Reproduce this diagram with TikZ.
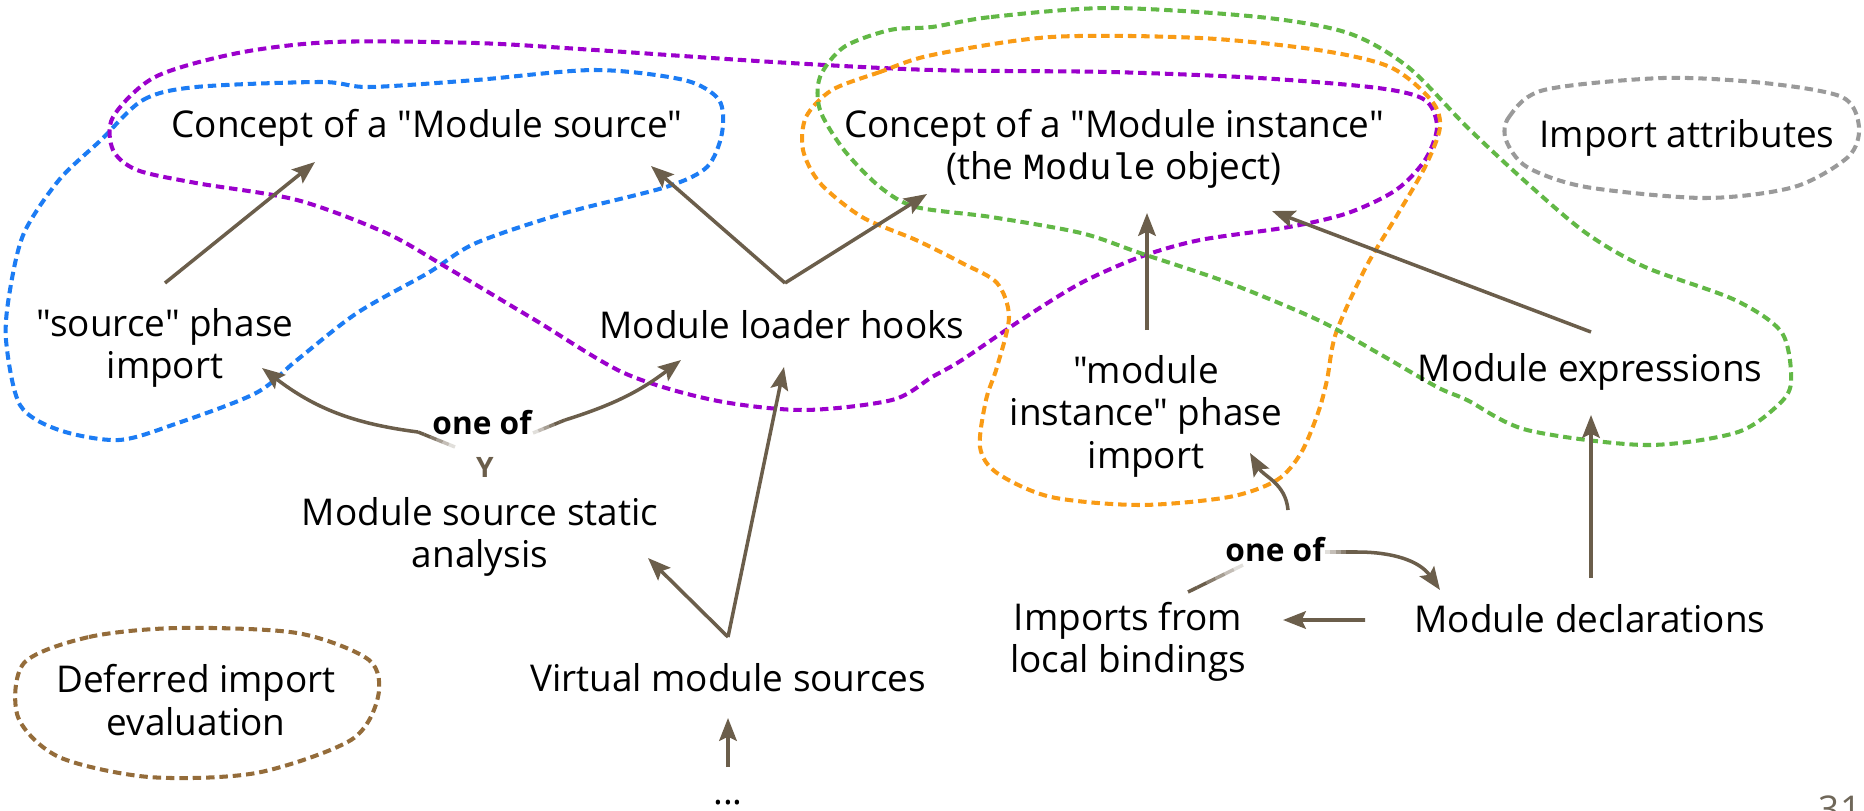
\documentclass[tikz,border=0pt]{standalone}
\usepackage{fontspec}
\setmainfont{Open Sans}[Ligatures=TeXOff]
\setmonofont{Liberation Mono}
\usetikzlibrary{arrows.meta,calc}
\definecolor{arrowc}{HTML}{6B5E4B}
\definecolor{grpblue}{HTML}{1C7CF4}
\definecolor{grppurple}{HTML}{9B00CC}
\definecolor{grporange}{HTML}{F99B15}
\definecolor{grpgreen}{HTML}{62B846}
\definecolor{grpgray}{HTML}{9A9A9A}
\definecolor{grpbrown}{HTML}{946C3A}
\definecolor{pagec}{HTML}{6F6759}
\begin{document}
\begin{tikzpicture}[
  every node/.style={font=\fontsize{10.5pt}{12.1pt}\selectfont, align=center},
  arr/.style={-{Stealth[length=6.5pt,width=5pt,inset=1.2pt]}, line width=1pt, draw=arrowc},
  grp/.style={line width=1.15pt, dash pattern=on 2.4pt off 1.4pt},
  oneof/.style={font=\fontsize{9pt}{10pt}\selectfont\bfseries}
]
\useasboundingbox (0,0) rectangle (18.64,-8.11);

% dashed groups
\draw[grp, grpblue] plot[smooth cycle] coordinates {(1.01,-1.40) (1.43,-1.00) (1.96,-0.87) (3.21,-0.82) (3.69,-0.87) (4.76,-0.80) (5.95,-0.70) (6.84,-0.80) (7.19,-1.00) (7.22,-1.33) (7.07,-1.67) (6.66,-1.87) (5.65,-2.13) (4.76,-2.43) (4.28,-2.73) (3.57,-3.13) (2.97,-3.60) (2.56,-3.93) (1.78,-4.23) (1.19,-4.40) (0.59,-4.30) (0.20,-4.05) (0.06,-3.40) (0.10,-2.90) (0.24,-2.33) (0.59,-1.80)};
\draw[grp, grppurple] plot[smooth cycle] coordinates {(1.13,-1.17) (1.55,-0.77) (2.38,-0.53) (3.33,-0.42) (4.76,-0.43) (5.95,-0.50) (7.73,-0.62) (9.32,-0.70) (11.10,-0.72) (12.59,-0.78) (13.78,-0.88) (14.25,-1.00) (14.37,-1.27) (14.25,-1.60) (13.96,-1.90) (13.48,-2.13) (12.89,-2.27) (12.00,-2.40) (11.40,-2.57) (10.81,-2.83) (10.21,-3.20) (9.62,-3.60) (9.32,-3.77) (8.92,-4.00) (8.03,-4.10) (7.13,-4.00) (6.24,-3.73) (5.35,-3.20) (4.46,-2.67) (3.86,-2.33) (2.97,-2.00) (1.96,-1.83) (1.37,-1.70) (1.13,-1.50)};
\draw[grp, grporange] plot[smooth cycle] coordinates {(9.32,-0.55) (8.80,-0.72) (8.32,-0.90) (8.06,-1.17) (8.03,-1.50) (8.20,-1.83) (8.62,-2.17) (9.16,-2.40) (9.62,-2.63) (9.97,-2.83) (10.09,-3.17) (9.97,-3.67) (9.86,-4.00) (9.80,-4.47) (9.97,-4.73) (10.51,-4.97) (11.40,-5.05) (12.29,-4.97) (12.77,-4.80) (13.01,-4.53) (13.18,-4.13) (13.27,-3.80) (13.36,-3.33) (13.66,-2.67) (13.96,-2.17) (14.25,-1.67) (14.40,-1.27) (14.31,-1.00) (13.90,-0.67) (13.18,-0.50) (12.00,-0.38) (10.51,-0.37)};
\draw[grp, grpgreen] plot[smooth cycle] coordinates {(9.32,-0.27) (9.91,-0.17) (11.10,-0.08) (12.59,-0.17) (13.48,-0.33) (14.08,-0.67) (14.67,-1.27) (15.27,-1.83) (15.86,-2.33) (16.45,-2.67) (17.35,-3.00) (17.82,-3.33) (17.91,-3.83) (17.76,-4.07) (17.35,-4.33) (16.45,-4.45) (15.27,-4.30) (14.67,-4.00) (14.37,-3.87) (13.78,-3.53) (13.18,-3.20) (12.29,-2.83) (11.40,-2.53) (10.81,-2.33) (9.91,-2.17) (9.16,-2.07) (8.80,-1.87) (8.44,-1.50) (8.20,-1.10) (8.20,-0.77) (8.44,-0.47) (8.90,-0.30)};
\draw[grp, grpgray] plot[smooth cycle] coordinates {(15.06,-1.40) (15.09,-1.17) (15.44,-0.90) (16.63,-0.78) (17.64,-0.83) (18.42,-0.97) (18.59,-1.27) (18.48,-1.57) (17.94,-1.87) (17.05,-1.98) (15.86,-1.87) (15.27,-1.67)};
\draw[grp, grpbrown] plot[smooth cycle] coordinates {(0.24,-6.63) (0.89,-6.37) (1.78,-6.28) (2.97,-6.33) (3.69,-6.60) (3.78,-6.97) (3.51,-7.40) (2.56,-7.73) (1.49,-7.77) (0.59,-7.57) (0.18,-7.17)};

% texts
\node (srcconcept) at (4.27,-1.28) {Concept of a "Module source"};
\node (instconcept) at (11.14,-1.49) {Concept of a "Module instance"\\(the \texttt{Module} object)};
\node (attrs) at (16.87,-1.38) {Import attributes};
\node (srcimport) at (1.65,-3.48) {"source" phase\\import};
\node (hooks) at (7.82,-3.25) {Module loader hooks};
\node (instimport) at (11.46,-4.16) {"module\\instance" phase\\import};
\node (expressions) at (15.90,-3.72) {Module expressions};
\node[oneof] (oneofL) at (4.82,-4.23) {one of};
\node[oneof, text=arrowc, font=\fontsize{8pt}{9pt}\selectfont\bfseries] (fork) at (4.85,-4.67) {Y};
\node (analysis) at (4.80,-5.37) {Module source static\\analysis};
\node (virtual) at (7.28,-6.78) {Virtual module sources};
\node (dots) at (7.28,-8.03) {...};
\node (deferred) at (1.96,-7.00) {Deferred import\\evaluation};
\node[oneof] (oneofR) at (12.75,-5.50) {one of};
\node (localimp) at (11.28,-6.42) {Imports from\\local bindings};
\node (declarations) at (15.90,-6.19) {Module declarations};
\node[anchor=base, text=pagec] (page) at (18.40,-8.22) {31};

% faded tails next to "one of"
\coordinate (tailA1) at ([shift={(-0.27,-0.24)}]oneofL.center);
\coordinate (tailA2) at ([shift={(-0.64,-0.09)}]oneofL.center);
\coordinate (tailB1) at ([shift={(0.51,-0.10)}]oneofL.center);
\coordinate (tailB2) at ([shift={(0.83,0.03)}]oneofL.center);
\coordinate (tailC1) at ([shift={(0.50,-0.02)}]oneofR.center);
\coordinate (tailC2) at ([shift={(0.82,-0.02)}]oneofR.center);
\coordinate (tailD1) at ([shift={(-0.32,-0.15)}]oneofR.center);
\coordinate (tailD2) at ([shift={(0.60,0.50)}]localimp.center);
\foreach \a/\b in {tailA1/tailA2, tailB1/tailB2, tailC1/tailC2, tailD1/tailD2} {
  \foreach \k in {1,...,6} {
    \pgfmathtruncatemacro\p{min(100,\k*20)}
    \draw[line width=1pt, arrowc!\p!white] ($(\a)!{(\k-1)/6}!(\b)$) -- ($(\a)!{\k/6}!(\b)$);
  }
}

% arrows
\draw[arr] ([shift={(0,0.65)}]srcimport.center) -- ([shift={(-1.12,-0.34)}]srcconcept.center);
\draw[arr] ([shift={(0.03,0.42)}]hooks.center) -- ([shift={(2.24,-0.38)}]srcconcept.center);
\draw[arr] ([shift={(0.03,0.42)}]hooks.center) -- ([shift={(-1.87,-0.45)}]instconcept.center);
\draw[arr] ([shift={(0.01,0.86)}]instimport.center) -- ([shift={(0.33,-0.64)}]instconcept.center);
\draw[arr] ([shift={(0.01,0.40)}]expressions.center) -- ([shift={(1.58,-0.62)}]instconcept.center);
\draw[arr] (tailA2) to[bend left=15] ([shift={(0.97,-0.20)}]srcimport.center);
\draw[arr] (tailB2) to[bend right=10] ([shift={(-1.01,-0.35)}]hooks.center);
\draw[arr] ([shift={(0,0.41)}]virtual.center) -- ([shift={(1.68,-0.21)}]analysis.center);
\draw[arr] ([shift={(0,0.41)}]virtual.center) -- ([shift={(0.02,-0.42)}]hooks.center);
\draw[arr] ([shift={(0,0.36)}]dots.center) -- ([shift={(0,-0.40)}]virtual.center);
\draw[arr] ([shift={(0.01,0.41)}]declarations.center) -- ([shift={(0.01,-0.43)}]expressions.center);
\draw[arr] ([shift={(-2.25,-0.01)}]declarations.center) -- ([shift={(1.55,0.22)}]localimp.center);
\draw[arr] (tailC2) to[out=0,in=125] ([shift={(-1.50,0.29)}]declarations.center);
\draw[arr] ([shift={(0.13,0.40)}]oneofR.center) to[out=95,in=-60] ([shift={(1.04,-0.37)}]instimport.center);
\end{tikzpicture}
\end{document}
